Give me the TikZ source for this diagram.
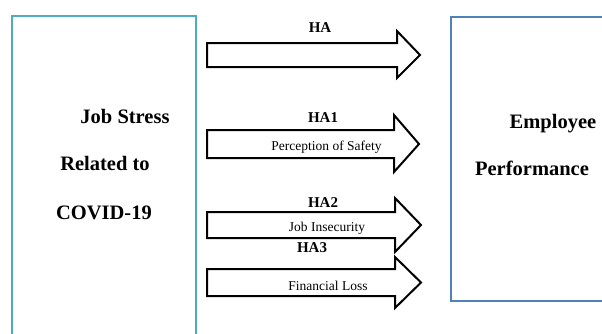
\documentclass[tikz,border=0pt]{standalone}
\usepackage{fontspec}
\setmainfont{Liberation Serif}
\definecolor{leftc}{HTML}{4BACC6}
\definecolor{rightc}{HTML}{4F81BD}
\tikzset{
  bigtxt/.style={font=\fontsize{20.5}{24}\selectfont\bfseries, anchor=base, inner sep=0pt},
  hatxt/.style={font=\fontsize{15}{18}\selectfont\bfseries, anchor=base, inner sep=0pt},
  intxt/.style={font=\fontsize{13.5}{16}\selectfont, anchor=base, inner sep=0pt},
  fat/.style={draw=black, line width=2pt, fill=white, line join=miter},
}
\begin{document}
\begin{tikzpicture}[x=1pt,y=-1pt]
\useasboundingbox (0,0) rectangle (602,333);
% boxes
\draw[leftc, line width=2pt] (12,340) -- (12,16) -- (196,16) -- (196,340);
\draw[rightc, line width=2.5pt] (610,17) -- (451,17) -- (451,301) -- (610,301);
% arrows
\draw[fat] (207,43) -- (397,43) -- (397,31) -- (420,55) -- (397,78) -- (397,67) -- (207,67) -- cycle;
\draw[fat] (207,130) -- (394,130) -- (394,115) -- (419,144) -- (394,172) -- (394,158) -- (207,158) -- cycle;
\draw[fat] (207,212) -- (395,212) -- (395,198) -- (421,225) -- (395,252) -- (395,238) -- (207,238) -- cycle;
\draw[fat] (207,269) -- (395,269) -- (395,257) -- (421,282.5) -- (395,308) -- (395,296) -- (207,296) -- cycle;
% labels
\node[hatxt] (ha) at (320,32) {HA};
\node[hatxt] (ha1) at (323,122) {HA1};
\node[hatxt] (ha2) at (323,207) {HA2};
\node[hatxt] (ha3) at (312,252) {HA3};
\node[intxt] (p1) at (326.5,150) {Perception of Safety};
\node[intxt] (p2) at (327,231) {Job Insecurity};
\node[intxt] (p3) at (328,290) {Financial Loss};
\node[bigtxt] (l1) at (125,123) {Job Stress};
\node[bigtxt] (l2) at (105,170) {Related to};
\node[bigtxt] (l3) at (104,219) {COVID-19};
\node[bigtxt] (r1) at (553,128) {Employee};
\node[bigtxt] (r2) at (532,175) {Performance};
\end{tikzpicture}
\end{document}
